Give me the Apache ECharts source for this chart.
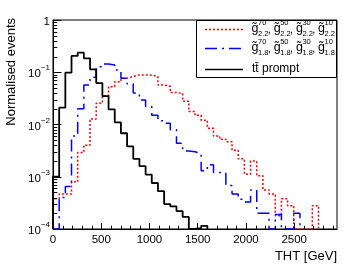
<!DOCTYPE html>
<html><head><meta charset="utf-8">
<script src="https://cdn.jsdelivr.net/npm/echarts@6/dist/echarts.min.js"></script>
<style>html,body{margin:0;padding:0;background:#fff}#c{width:355px;height:265px}</style>
</head><body><div id="c"></div>
<script>
// ---- data ----
const BIN_WIDTH = 64;          // GeV per bin
const X_MIN = 0, X_MAX = 2944; // x axis range (GeV)
const Y_MIN = 1e-4, Y_MAX = 1;
const xTickValues = [0, 500, 1000, 1500, 2000, 2500];
const yTickExponents = [0, -1, -2, -3, -4];

// red dotted : g~_{2.2}
const redValues = [0.00038,0.00047,0.00047,0.0008,0.0029,0.004,0.0128,0.0255,0.035,0.053,0.066,0.077,0.083,0.089,0.089,0.088,0.083,0.057,0.054,0.041,0.039,0.028,0.0177,0.015,0.012,0.0085,0.006,0.0052,0.0047,0.0032,0.0022,0.00112,0.0020,0.00105,0.00056,0.00047,0.00018,0.00038,0.00028,0,0,0,0.00028];
// blue dash-dot : g~_{1.8}
const blueValues = [0,0.0004,0.00065,0.006,0.02,0.057,0.08,0.128,0.144,0.138,0.11,0.077,0.06,0.04,0.0295,0.022,0.015,0.0118,0.0106,0.0079,0.0044,0.0031,0.003,0.0028,0.0013,0.0017,0.0012,0.0012,0.00068,0.00047,0.00037,0.00033,0.00056,0.0002,0.0002,0,0.00019,0,0,0.0002];
// black solid : ttbar prompt
const blackValues = [0.001,0.021,0.098,0.205,0.237,0.185,0.114,0.062,0.035,0.0195,0.011,0.0068,0.0038,0.0022,0.0016,0.0011,0.00076,0.00053,0.0003,0.00027,0.00022,0.00017,0,0.000104,0.000115];

const legendSupers = ['70','50','30','10'];
const legendSubsRed = '2.2', legendSubsBlue = '1.8';
const legendBlackLabel = 'tt\u0304 prompt';
const yTitle = 'Normalised events';
const xTitle = 'THT [GeV]';

// ---- build ----
function histPoints(vals){
  const pts = [[X_MIN, Y_MIN]];
  vals.forEach((v,i)=>pts.push([i*BIN_WIDTH, v>0?v:Y_MIN]));
  const last = vals[vals.length-1];
  pts.push([vals.length*BIN_WIDTH, last>0?last:Y_MIN]);
  pts.push([vals.length*BIN_WIDTH, Y_MIN]);
  return pts;
}
const yMinor = [];
for (let e=-4;e<0;e++) for (let m=2;m<=9;m++) yMinor.push(m*Math.pow(10,e));
const xMinor = [];
for (let v=100; v<X_MAX; v+=100) if (v%500!==0) xMinor.push(v);

const FONT = '"Liberation Sans", Arial, sans-serif';
const chart = echarts.init(document.getElementById('c'), null, {renderer:'canvas'});

function sup(n){ return n===0 ? '{b|1}' : '{b|10}{s|\u2212'+(-n)+'}'; }

const graphics = [];
// axis titles
graphics.push({type:'text', x:11, y:18, rotation:Math.PI/2,
  style:{text:yTitle, font:'13px '+FONT, fill:'#000', align:'right', verticalAlign:'middle'}});
graphics.push({type:'text', x:337, y:256,
  style:{text:xTitle, font:'13px '+FONT, fill:'#000', align:'right', verticalAlign:'middle'}});
// legend
graphics.push({type:'rect', shape:{x:196.5, y:20.5, width:140, height:57},
  style:{fill:'#fff', stroke:'#000', lineWidth:1}, z:10});
graphics.push({type:'line', shape:{x1:205,y1:29.5,x2:243,y2:29.5}, style:{stroke:'#ff0000', lineWidth:1.5, lineDash:[2,2]}, z:11});
graphics.push({type:'line', shape:{x1:205,y1:48.5,x2:243,y2:48.5}, style:{stroke:'#0000ff', lineWidth:1.5, lineDash:[12,5,2,5]}, z:11});
graphics.push({type:'line', shape:{x1:205,y1:69.5,x2:243,y2:69.5}, style:{stroke:'#000', lineWidth:1.5}, z:11});
function gGroup(rowY, sub){
  legendSupers.forEach((s,i)=>{
    const x = 251.5 + i*22.2;
    graphics.push({type:'text', x:x, y:rowY, z:11, style:{text:'g\u0303', font:'12.5px '+FONT, fill:'#000', align:'left', verticalAlign:'middle'}});
    graphics.push({type:'text', x:x+6.5, y:rowY-6, z:11, style:{text:s, font:'7.5px '+FONT, fill:'#000', align:'left', verticalAlign:'middle'}});
    graphics.push({type:'text', x:x+6.5, y:rowY+4.5, z:11, style:{text:sub, font:'7.5px '+FONT, fill:'#000', align:'left', verticalAlign:'middle'}});
    if (i<legendSupers.length-1)
      graphics.push({type:'text', x:x+16.3, y:rowY+1, z:11, style:{text:',', font:'11px '+FONT, fill:'#000', align:'left', verticalAlign:'middle'}});
  });
}
gGroup(29, legendSubsRed);
gGroup(48, legendSubsBlue);
graphics.push({type:'text', x:252, y:69, z:11, style:{text:legendBlackLabel, font:'12px '+FONT, fill:'#000', align:'left', verticalAlign:'middle'}});

function stepSeries(vals, color, type, width, z){
  return {type:'line', step:'end', data:histPoints(vals), symbol:'none', showSymbol:false,
    lineStyle:{color:color, width:width, type:type}, z:z, animation:false, clip:true};
}

chart.setOption({
  animation:false,
  backgroundColor:'#fff',
  grid:{left:53, right:18, top:20, bottom:36, show:true, borderColor:'#000', borderWidth:1, backgroundColor:'transparent'},
  xAxis:{type:'value', min:X_MIN, max:X_MAX, interval:500,
    axisLine:{show:true, lineStyle:{color:'#000', width:1}},
    axisTick:{show:true, inside:true, length:6, lineStyle:{color:'#000'}},
    splitLine:{show:false},
    axisLabel:{color:'#000', fontSize:11.5, fontFamily:FONT, margin:5, showMaxLabel:false,
      formatter:v=> xTickValues.indexOf(v)>=0 ? String(v) : ''}},
  yAxis:{type:'log', logBase:10, min:Y_MIN, max:Y_MAX,
    axisLine:{show:true, lineStyle:{color:'#000', width:1}},
    axisTick:{show:true, inside:true, length:8.5, lineStyle:{color:'#000'}},
    splitLine:{show:false},
    axisLabel:{color:'#000', margin:3, fontFamily:FONT,
      formatter:v=>sup(Math.round(Math.log10(v))),
      rich:{b:{fontSize:11.5, fontFamily:FONT, color:'#000', padding:[4,0,0,0]},
            s:{fontSize:8, fontFamily:FONT, color:'#000', verticalAlign:'top', padding:[0,0,4,0]}}}},
  series:[
    stepSeries(redValues, '#ff0000', [2,2], 1.5, 3),
    stepSeries(blueValues, '#0000ff', [12,5,2,5], 1.5, 4),
    stepSeries(blackValues, '#000000', 'solid', 1.8, 5),
    {type:'custom', data:yMinor.map(v=>[X_MIN,v]), silent:true, z:6,
      renderItem:(p,api)=>{const pt=api.coord([X_MIN, api.value(1)]); const y=Math.round(pt[1])+0.5;
        return {type:'line', shape:{x1:pt[0], y1:y, x2:pt[0]+4.3, y2:y}, style:{stroke:'#000', lineWidth:1}};}},
    {type:'custom', data:xMinor.map(v=>[v,Y_MIN]), silent:true, z:6,
      renderItem:(p,api)=>{const pt=api.coord([api.value(0), Y_MIN]); const x=Math.round(pt[0])+0.5;
        return {type:'line', shape:{x1:x, y1:pt[1], x2:x, y2:pt[1]-3.2}, style:{stroke:'#000', lineWidth:1}};}}
  ],
  graphic:graphics
});
</script></body></html>
